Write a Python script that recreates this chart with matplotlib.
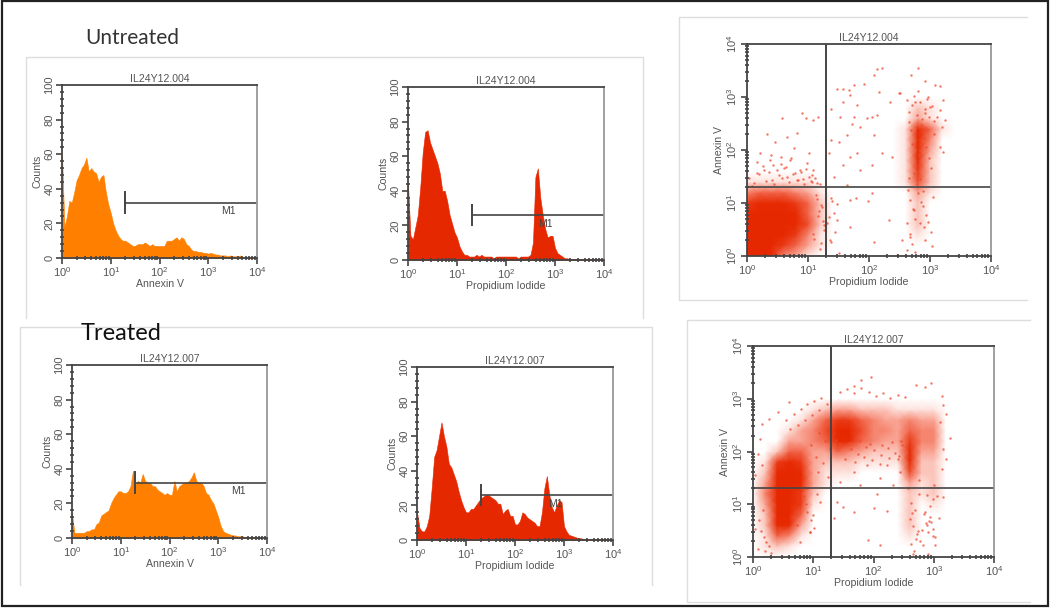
"""
plot.py - Annexin V / propidium iodide flow cytometry panels, untreated vs treated
"""

import numpy as np
import matplotlib
matplotlib.use('Agg')
import matplotlib.pyplot as plt
from matplotlib.colors import LinearSegmentedColormap
from matplotlib.patches import Rectangle

plt.rcParams['font.family'] = ['Liberation Sans', 'DejaVu Sans']
plt.rcParams['mathtext.default'] = 'regular'

W, H = 1050, 608
ORANGE = '#ff8000'
RED = '#e62800'
TEXT = '#555555'
LINE = '#444444'

# Histogram counts, one value per 0.05 decade from 10^0 to 10^4
untreated_annexin = [60, 18, 24, 33, 32, 38, 45, 48, 52, 54, 58, 50, 52, 50, 49, 44, 47, 48, 38, 31,
                     26, 20, 16, 13, 11, 10, 10, 9, 8, 7, 7, 8, 8, 8, 9, 8, 7, 8, 7, 7,
                     7, 7, 7, 10, 10, 10, 11, 12, 10, 12, 11, 8, 7, 5, 4, 4, 3.5, 3.5, 3, 3,
                     2.5, 3, 2.5, 2, 2, 1.5, 1.5, 1.5, 1, 1.5, 1, 1, 1, 1.5, .5, .5, .5, .5, .5, .5, .5]
untreated_pi = [44, 14, 12, 19, 26, 42, 62, 74, 75, 68, 64, 60, 56, 50, 40, 40, 34, 26, 21, 16,
                13, 8, 5, 3, 3, 2, 2, 2, 3, 2, 3, 2, 2, 2, 2, 1, 2, 2, 2, 2,
                2, 2, 2, 2, 2, 1, 2, 2, 2, 2, 3, 10, 48, 53, 36, 26, 18, 13, 14, 14,
                7, 4, 3, 2, 1, 1, .5, .5, .5, .5, .5, .5, .5, .5, .5, .5, .5, .5, .5, .5, .5]
treated_annexin = [14, 3, 3, 3, 3, 3, 4, 4, 5, 5, 8, 9, 13, 14, 15, 16, 20, 23, 25, 27,
                   27, 26, 26, 27, 30, 39, 31, 33, 32, 37, 33, 32, 32, 30, 30, 28, 27, 26, 25, 26,
                   25, 25, 33, 27, 30, 31, 32, 32, 33, 35, 38, 33, 32, 32, 30, 26, 25, 22, 20, 16,
                   12, 7, 4, 3, 2.5, 2, 1.5, 1.5, 1, 1, 1, .5, .5, .5, .5, .5, .5, .5, .5, .5, .5]
treated_pi = [16, 7, 5, 5, 8, 14, 30, 48, 52, 60, 68, 60, 54, 44, 42, 38, 34, 28, 23, 19,
              16, 16, 18, 18, 20, 22, 24, 25, 26, 26, 25, 24, 23, 21, 21, 15, 17, 18, 14, 14,
              9, 9, 11, 16, 15, 13, 12, 11, 10, 8, 8, 16, 30, 37, 26, 19, 16, 20, 23, 22,
              8, 5, 3, 2.5, 2, 1.5, 1, 1, .5, .5, .5, .5, .5, .5, .5, .5, .5, .5, .5, .5, .5]

# Dot plot density levels 0-9, rows from Annexin 10^4 down to 10^0, columns PI 10^0 to 10^4,
# one node every 0.2 decade
untreated_density = [
    [0, 0, 0, 0, 0, 0, 0, 0, 0, 0, 0, 0, 0, 0, 0, 0, 0, 0, 0, 0, 0],
    [0, 0, 0, 0, 0, 0, 0, 0, 0, 0, 0, 0, 0, 0, 0, 0, 0, 0, 0, 0, 0],
    [0, 0, 0, 0, 0, 0, 0, 0, 0, 0, 0, 0, 0, 0, 0, 0, 0, 0, 0, 0, 0],
    [0, 0, 0, 0, 0, 0, 0, 0, 0, 0, 0, 0, 0, 0, 0, 0, 0, 0, 0, 0, 0],
    [0, 0, 0, 0, 0, 0, 0, 0, 0, 0, 0, 0, 0, 0, 0, 0, 0, 0, 0, 0, 0],
    [0, 0, 0, 0, 0, 0, 0, 0, 0, 0, 0, 0, 0, 0, 0, 0, 0, 0, 0, 0, 0],
    [0, 0, 0, 0, 0, 0, 0, 0, 0, 0, 0, 0, 0, 0, 2, 1, 0, 0, 0, 0, 0],
    [0, 0, 0, 0, 0, 0, 0, 0, 0, 0, 0, 0, 0, 0, 3, 1, 0, 0, 0, 0, 0],
    [0, 0, 0, 0, 0, 0, 0, 0, 0, 0, 0, 0, 0, 1, 8, 5, 1, 0, 0, 0, 0],
    [0, 0, 0, 0, 0, 0, 0, 0, 0, 0, 0, 0, 0, 1, 9, 4, 0, 0, 0, 0, 0],
    [0, 0, 0, 0, 0, 0, 0, 0, 0, 0, 0, 0, 0, 1, 8, 3, 0, 0, 0, 0, 0],
    [0, 0, 0, 0, 0, 0, 0, 0, 0, 0, 0, 0, 0, 1, 8, 2, 0, 0, 0, 0, 0],
    [0, 0, 0, 0, 0, 0, 0, 0, 0, 0, 0, 0, 0, 1, 7, 2, 0, 0, 0, 0, 0],
    [1, 1, 1, 1, 1, 1, 0, 0, 0, 0, 0, 0, 0, 1, 6, 2, 0, 0, 0, 0, 0],
    [4, 5, 5, 5, 4, 3, 1, 0, 0, 0, 0, 0, 0, 0, 3, 1, 0, 0, 0, 0, 0],
    [7, 8, 8, 8, 7, 5, 2, 0, 0, 0, 0, 0, 0, 0, 2, 0, 0, 0, 0, 0, 0],
    [8, 9, 9, 9, 8, 5, 2, 0, 0, 0, 0, 0, 0, 0, 2, 0, 0, 0, 0, 0, 0],
    [9, 9, 9, 9, 8, 6, 2, 0, 0, 0, 0, 0, 0, 0, 2, 0, 0, 0, 0, 0, 0],
    [9, 9, 9, 9, 7, 4, 1, 0, 0, 0, 0, 0, 0, 0, 1, 0, 0, 0, 0, 0, 0],
    [9, 9, 9, 7, 5, 3, 1, 0, 0, 0, 0, 0, 0, 0, 0, 0, 0, 0, 0, 0, 0],
    [8, 9, 8, 4, 3, 1, 0, 0, 0, 0, 0, 0, 0, 0, 0, 0, 0, 0, 0, 0, 0],
]
treated_density = [
    [0, 0, 0, 0, 0, 0, 0, 0, 0, 0, 0, 0, 0, 0, 0, 0, 0, 0, 0, 0, 0],
    [0, 0, 0, 0, 0, 0, 0, 0, 0, 0, 0, 0, 0, 0, 0, 0, 0, 0, 0, 0, 0],
    [0, 0, 0, 0, 0, 0, 0, 0, 0, 0, 0, 0, 0, 0, 0, 0, 0, 0, 0, 0, 0],
    [0, 0, 0, 0, 0, 0, 0, 0, 0, 0, 0, 0, 0, 0, 0, 0, 0, 0, 0, 0, 0],
    [0, 0, 0, 0, 0, 0, 0, 0, 0, 0, 0, 0, 0, 0, 0, 0, 0, 0, 0, 0, 0],
    [0, 0, 0, 0, 0, 0, 0, 0, 0, 0, 0, 0, 0, 0, 0, 0, 0, 0, 0, 0, 0],
    [0, 0, 0, 0, 0, 1, 2, 3, 3, 2, 2, 2, 1, 1, 1, 1, 0, 0, 0, 0, 0],
    [0, 0, 0, 0, 1, 3, 5, 7, 7, 5, 4, 3, 3, 4, 3, 3, 0, 0, 0, 0, 0],
    [0, 0, 0, 1, 3, 4, 6, 9, 9, 6, 4, 4, 3, 5, 4, 4, 0, 0, 0, 0, 0],
    [0, 0, 0, 3, 3, 4, 5, 8, 8, 5, 4, 3, 3, 7, 4, 4, 0, 0, 0, 0, 0],
    [0, 0, 2, 5, 5, 3, 3, 5, 4, 3, 2, 2, 2, 8, 3, 3, 0, 0, 0, 0, 0],
    [0, 1, 7, 8, 7, 3, 2, 2, 2, 1, 1, 1, 1, 8, 2, 2, 0, 0, 0, 0, 0],
    [0, 2, 8, 9, 8, 3, 1, 1, 1, 0, 0, 0, 0, 6, 2, 2, 0, 0, 0, 0, 0],
    [0, 3, 9, 9, 8, 3, 1, 0, 0, 0, 0, 0, 0, 3, 1, 2, 0, 0, 0, 0, 0],
    [0, 4, 9, 9, 7, 2, 0, 0, 0, 0, 0, 0, 0, 2, 1, 2, 0, 0, 0, 0, 0],
    [0, 3, 9, 9, 7, 1, 0, 0, 0, 0, 0, 0, 0, 2, 0, 1, 0, 0, 0, 0, 0],
    [0, 2, 9, 9, 5, 0, 0, 0, 0, 0, 0, 0, 0, 2, 0, 0, 0, 0, 0, 0, 0],
    [0, 2, 8, 8, 3, 0, 0, 0, 0, 0, 0, 0, 0, 2, 0, 0, 0, 0, 0, 0, 0],
    [0, 1, 5, 4, 1, 0, 0, 0, 0, 0, 0, 0, 0, 1, 0, 0, 0, 0, 0, 0, 0],
    [0, 1, 2, 1, 0, 0, 0, 0, 0, 0, 0, 0, 0, 0, 0, 0, 0, 0, 0, 0, 0],
    [0, 0, 0, 0, 0, 0, 0, 0, 0, 0, 0, 0, 0, 0, 0, 0, 0, 0, 0, 0, 0],
]

# Sparse events outside the dense clouds, as decades (log10 PI, log10 Annexin)
untreated_x = [2.22, 2.13, 2.08, 1.91, 1.75, 1.67, 1.57, 1.48, 1.57, 1.69, 2.17, 1.8, 1.37, 1.75, 1.72, 1.53,
               1.97, 2.05, 2.13, 1.64, 1.86, 2.08, 2.35, 2.49, 1.37, 1.5, 1.69, 1.8, 1.58, 1.86, 2.21, 2.38,
               2.05, 1.34, 1.42, 1.64, 1.37, 1.48, 1.69, 1.78, 2.05, 1.99, 1.34, 1.48, 1.69, 2.32, 2.08, 1.37,
               1.5, 2.46, 2.8, 2.69, 2.92, 3.17, 3.09, 3.22, 3.17, 3.25, 3.2, 3.11, 3.06, 3.17, 3.22, 2.51,
               2.73, 2.84, 2.92, 2.9, 3.03, 2.62, 2.54, 2.68, .57, .9, 1.09, 1.17, .96, .66, .82, .33,
               .46, .22, .77, 1.01, .55, .38, .27, .71, .98, .87, .49, .16, 1.09, .03, .66, .41, .82, 1.07,
               # around the lower left cloud
               .12, .31, .45, .58, .69, .84, .93, 1.05, 1.14, .2, .36, .52, .61, .75, .89, 1.02, .08, .28,
               .43, .64, .79, .97, 1.11, .17, .39, .56, .72, .91, 1.06, 1.19, 1.23, 1.16, 1.27, 1.09, 1.21, 1.14,
               1.24, 1.1, 1.18, 1.26, 1.2, 1.13, 1.22, 1.31, 1.36, 1.42, 1.39, 1.45,
               # PI high column
               2.62, 2.66, 2.7, 2.74, 2.78, 2.83, 2.87, 2.91, 2.95, 2.99, 3.03, 3.07, 2.64, 2.68, 2.72, 2.76,
               2.81, 2.85, 2.89, 2.93, 2.97, 3.01, 3.05, 2.63, 2.67, 2.71, 2.75, 2.79, 2.84, 2.88, 2.92, 2.96,
               3.0, 2.65, 2.69, 2.73, 2.77, 2.82, 2.86, 2.9, 2.94, 2.98, 3.02, 2.66, 2.71, 2.76, 2.8, 2.85]
untreated_y = [3.55, 3.52, 3.41, 3.25, 3.23, 3.13, 3.16, 3.16, 2.91, 3.04, 3.1, 2.85, 2.77, 2.63, 2.5, 2.63,
               2.6, 2.63, 2.66, 2.28, 2.44, 2.28, 2.91, 3.07, 2.19, 2.16, 1.87, 1.94, 1.72, 1.62, 1.94, 1.87,
               1.72, 1.94, 1.5, 1.34, 1.09, .99, 1.06, 1.09, 1.18, 1.03, .74, .68, .55, .68, .27, .27,
               .05, .02, 3.54, 3.41, 3.31, 3.2, 3.23, 2.94, 2.75, 2.57, 2.44, 2.63, 2.31, 2.06, 1.97, 3.07,
               .87, .62, .3, .55, .18, .11, .3, .36, 2.6, 2.69, 2.57, 2.63, 2.6, 2.25, 2.33, 2.31,
               2.16, 1.94, 2.03, 1.94, 1.87, 1.81, 1.69, 1.81, 1.75, 1.62, 1.62, 1.56, 1.62, 1.47, 1.5, 1.43, 1.43, 1.4,
               1.38, 1.42, 1.36, 1.47, 1.39, 1.44, 1.35, 1.41, 1.37, 1.55, 1.58, 1.52, 1.66, 1.54, 1.59, 1.49, 1.33, 1.62,
               1.72, 1.68, 1.57, 1.64, 1.48, 1.78, 1.91, 1.73, 1.84, 1.46, 1.52, 1.36, .92, .75, .58, .41, .24, 1.08,
               .66, .33, .85, .5, .14, 1.16, .96, .62, .3, .82, 1.04, .45,
               2.95, 2.72, 2.84, 3.02, 2.66, 2.91, 2.58, 2.77, 2.97, 2.62, 2.83, 2.54, 1.25, 1.05, .88, .7,
               1.18, 1.02, .95, .78, .64, .45, 1.12, .62, .42, .22, .08, 1.35, 1.46, 1.22, 2.7, 3.0, 2.82, 2.52,
               2.38, 1.56, 1.72, 1.9, 2.12, 2.22, 2.05, 1.84, 1.66, 1.48, 2.12, 2.9, 3.12, 2.48]
treated_x = [1.96, 1.8, 1.67, 2.71, 2.85, 2.96, 3.13, 3.16, 3.21, 3.1, 3.27, 3.16, 3.21, 3.13, 3.16, .59,
             .42, .26, .15, .12, .09, .15, .04, 1.91, 2.11, 2.22, 2, 1.67, 1.39, 1.5, 1.34, 2.05,
             1.78, 2.11, 2.33, 2.44, 1.67, 1.89, 2.22, 2.41, 1.45, 2.66, 2.91, 3.02, 2.99, 2.88, .04, .09,
             .29, .95, .78, .73, 1, 1.11,
             # arch and shoulders
             .55, .68, .79, .9, 1.02, 1.13, .62, .74, .86, .98, 1.1, 1.22, 1.44, 1.56, 1.68, 1.8, 1.92, 2.04,
             2.16, 2.28, 2.4, 2.52, 1.48, 1.62, 1.75, 1.88, 2.0, 2.12, 2.24, 2.36, 2.48, 1.52, 1.7, 1.84, 1.98,
             2.1, 2.26, 2.42, 1.38, 1.58, 1.78, 1.94, 2.14, 2.3, 2.46, 1.1, 1.2, 1.28, 1.05, 1.16, .96, 1.08, 1.24,
             # columns
             2.6, 2.66, 2.72, 2.78, 2.84, 2.9, 2.96, 3.02, 3.08, 2.63, 2.69, 2.75, 2.81, 2.87, 2.93, 2.99, 3.05,
             2.58, 2.64, 2.7, 2.76, 2.82, 2.88, 2.94, 3.0, 2.62, 2.68, 2.74, 2.86, 2.92, 2.98,
             # lower left fringe
             .18, .22, .27, .14, .2, .3, .9, .96, 1.02, .88, .94, 1.06, .84, .9, .1, .16]
treated_y = [3.41, 3.35, 3.25, 3.27, 3.22, 3.3, 3.06, 2.88, 2.72, 2.56, 2.26, 2.05, 1.86, 1.67, 1.14, 2.94,
             2.75, 2.62, 2.53, 2.24, 1.96, 1.74, 1.55, .32, .22, .88, .92, .85, 1.04, .95, .73, 1.2,
             1.36, 1.49, 1.36, 1.61, 1.61, 1.74, 1.74, 1.86, 1.42, .06, .06, .22, .54, .6, .54, .16,
             .02, .47, .28, .6, .79, 1.04,
             2.6, 2.72, 2.8, 2.9, 2.96, 3.02, 2.42, 2.5, 2.6, 2.7, 2.78, 2.9, 3.12, 3.18, 3.1, 3.2, 3.12, 3.06,
             3.1, 3.02, 3.08, 3.04, 2.1, 2.04, 1.96, 2.08, 2.02, 1.94, 2.06, 1.98, 2.12, 1.86, 1.8, 1.9, 1.84,
             1.76, 1.88, 1.92, 2.22, 2.16, 2.2, 2.14, 2.12, 2.18, 2.2, 2.35, 2.2, 2.05, 1.9, 1.78, 2.12, 1.62, 1.52,
             .72, .58, .44, .3, .82, .48, .66, .38, .74, 1.02, .9, 1.2, .52, .64, .96, 1.1, 1.16,
             1.3, .84, .34, 1.46, .22, 1.18, .76, 1.36, .24, .12, .5, .86, .68, .4,
             .38, .28, .2, .5, .12, .08, .85, .7, .55, 1.0, .48, 1.2, 1.15, 1.3, .7, .9]

decade_labels = ['$10^{0}$', '$10^{1}$', '$10^{2}$', '$10^{3}$', '$10^{4}$']
count_ticks = [0, 20, 40, 60, 80, 100]
minor_decades = [m * 10.0 ** d for d in range(4) for m in range(2, 10)]

density_cmap = LinearSegmentedColormap.from_list(
    'dots', [(0, '#ffffff'), (0.11, '#fde3de'), (0.33, '#f9a595'), (0.6, '#f0583a'), (0.9, RED), (1, RED)])


def px_axes(left, top, right, bottom):
    return fig.add_axes([left / W, 1 - bottom / H, (right - left) / W, (bottom - top) / H])


def style_axes(ax, title, xlabel, ylabel):
    ax.set_xscale('log')
    ax.set_xlim(1, 1e4)
    ax.set_xticks([10.0 ** i for i in range(5)], decade_labels)
    ax.set_xticks(minor_decades, [''] * len(minor_decades), minor=True)
    ax.tick_params(which='major', length=4, width=1.2, color=LINE, labelsize=8, labelcolor=TEXT, pad=1.5)
    ax.tick_params(which='minor', length=3, width=1.2, color=LINE, direction='inout')
    for tick in ax.get_yticklabels():
        tick.set_rotation(90)
        tick.set_va('center')
    ax.set_title(title, fontsize=7.6, color=TEXT, pad=2.5)
    ax.set_xlabel(xlabel, fontsize=7.6, color=TEXT, labelpad=0)
    ax.set_ylabel(ylabel, fontsize=7.6, color=TEXT, labelpad=1)
    ax.spines['top'].set_color(LINE)
    ax.spines['left'].set_color(LINE)
    ax.spines['bottom'].set_color(LINE)
    ax.spines['right'].set_color('#999999')
    for spine in ax.spines.values():
        spine.set_linewidth(1.3)


def histogram(box, counts, color, title, xlabel, gate_y, m1_x, m1_y):
    ax = px_axes(*box)
    channels = 10.0 ** (np.arange(len(counts)) * 0.05)
    ax.fill_between(channels, counts, color=color, lw=0.4)
    ax.set_ylim(0, 100)
    ax.set_yticks(count_ticks, [str(c) for c in count_ticks])
    ax.set_yticks(range(0, 101, 4), [''] * 26, minor=True)
    style_axes(ax, title, xlabel, 'Counts')
    # M1 marker gate
    ax.plot([20, 1e4], [gate_y, gate_y], color=LINE, lw=1.2)
    ax.plot([20, 20], [gate_y - 6, gate_y + 6], color=LINE, lw=1.4)
    ax.text(m1_x, m1_y, 'M1', fontsize=7.5, color='#444444', ha='center', va='center')
    return ax


def dotplot(box, density, dots_x, dots_y, title):
    ax = px_axes(*box)
    ax.set_xscale('log')
    ax.set_yscale('log')
    nodes = 10.0 ** (np.arange(21) * 0.2)
    ax.pcolormesh(nodes, nodes, np.array(density)[::-1], shading='gouraud', cmap=density_cmap, vmin=0, vmax=9)
    ax.scatter(10.0 ** np.array(dots_x), 10.0 ** np.array(dots_y), s=3, color='#ee4a30', lw=0, alpha=0.75)
    ax.set_ylim(1, 1e4)
    ax.set_yticks([10.0 ** i for i in range(5)], decade_labels)
    ax.set_yticks(minor_decades, [''] * len(minor_decades), minor=True)
    style_axes(ax, title, 'Propidium Iodide', 'Annexin V')
    # quadrant lines
    ax.axvline(20, color=LINE, lw=1.4)
    ax.axhline(20, color=LINE, lw=1.2)
    return ax


fig = plt.figure(figsize=(W / 100, H / 100), dpi=100)

# Slide background: outer border and the pale panel frames
bg = fig.add_axes([0, 0, 1, 1], zorder=-1)
bg.set_xlim(0, W)
bg.set_ylim(H, 0)
bg.axis('off')
bg.add_patch(Rectangle((1.5, 1), W - 4, H - 3, fc='white', ec='#222222', lw=1.6))
frame_kw = dict(color='#dddddd', lw=1)
bg.plot([26, 26, 643, 643], [318, 57, 57, 318], **frame_kw)
bg.plot([20, 20, 652, 652], [585, 327, 327, 585], **frame_kw)
bg.plot([1027, 679, 679, 1027], [17, 17, 300, 300], **frame_kw)
bg.plot([1030, 687, 687, 1030], [320, 320, 602, 602], **frame_kw)

histogram((62, 85, 257, 258), untreated_annexin, ORANGE, 'IL24Y12.004', 'Annexin V', 32, 10 ** 3.41, 27)
histogram((408, 87, 604, 260), untreated_pi, RED, 'IL24Y12.004', 'Propidium Iodide', 26, 10 ** 2.81, 21)
histogram((72, 365, 267, 538), treated_annexin, ORANGE, 'IL24Y12.007', 'Annexin V', 32, 10 ** 3.42, 27)
histogram((417, 367, 613, 540), treated_pi, RED, 'IL24Y12.007', 'Propidium Iodide', 26, 10 ** 2.83, 21)

dotplot((747, 44, 991, 256), untreated_density, untreated_x, untreated_y, 'IL24Y12.004')
dotplot((753, 346, 994, 557), treated_density, treated_x, treated_y, 'IL24Y12.007')

fig.text(85 / W, 1 - 38 / H, 'Untreated', fontsize=15, family='Lato', color='#333333', va='center')
fig.text(81 / W, 1 - 333 / H, 'Treated', fontsize=17, family='Lato', color='#111111', va='center')

fig.savefig('out.png', dpi=100)
